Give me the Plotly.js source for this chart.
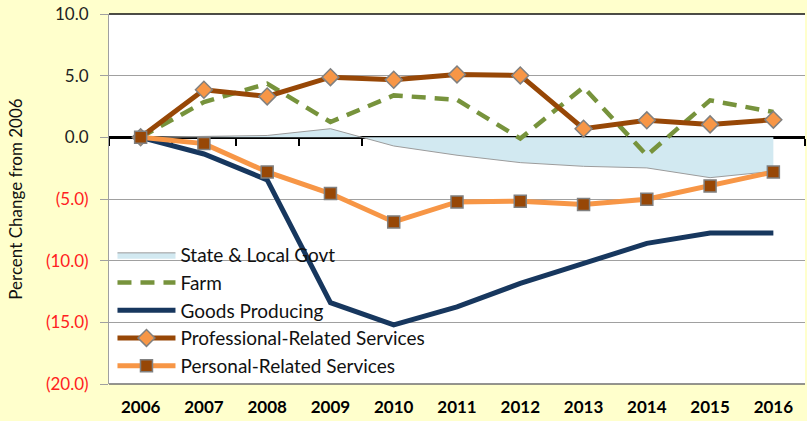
<!DOCTYPE html>
<html>
<head>
<meta charset="utf-8">
<script src="https://cdn.plot.ly/plotly-3.0.1.min.js"></script>
<style>html,body{margin:0;padding:0;background:#FFFFCC;}#chart{width:807px;height:421px;}</style>
</head>
<body>
<div id="chart"></div>
<script>
const years = ["2006","2007","2008","2009","2010","2011","2012","2013","2014","2015","2016"];
const stateLocalGovt = [0, 0.1, 0.15, 0.7, -0.7, -1.45, -2.05, -2.35, -2.48, -3.27, -2.75];
const farm = [0, 2.86, 4.35, 1.24, 3.4, 3.05, -0.1, 4.07, -1.46, 3.0, 2.05];
const goodsProducing = [0, -1.35, -3.45, -13.4, -15.2, -13.74, -11.85, -10.2, -8.6, -7.75, -7.75];
const professionalServices = [0, 3.86, 3.32, 4.88, 4.67, 5.1, 5.02, 0.7, 1.38, 1.05, 1.43];
const personalServices = [0, -0.51, -2.81, -4.56, -6.86, -5.24, -5.18, -5.45, -5.02, -3.94, -2.81];
const yTickVals = [10, 5, 0, -5, -10, -15, -20];

const yTickText = yTickVals.map(v => v < 0
  ? '<span style="color:#FF2020">(' + Math.abs(v).toFixed(1) + ')</span>'
  : v.toFixed(1));

const traces = [
  {x: years, y: stateLocalGovt, name: 'State &amp; Local Govt', type: 'scatter', mode: 'lines',
   fill: 'tozeroy', fillcolor: '#D2E9F1', line: {color: '#9C9C9C', width: 1}},
  {x: years, y: farm, name: 'Farm', type: 'scatter', mode: 'lines',
   line: {color: '#77933C', width: 4.5, dash: '14px,9px'}},
  {x: years, y: goodsProducing, name: 'Goods Producing', type: 'scatter', mode: 'lines',
   line: {color: '#17375E', width: 5}},
  {x: years, y: professionalServices, name: 'Professional-Related Services', type: 'scatter', mode: 'lines+markers',
   line: {color: '#974706', width: 5},
   marker: {symbol: 'diamond', size: 13, color: '#F79646', line: {color: '#808080', width: 1.5}}},
  {x: years, y: personalServices, name: 'Personal-Related Services', type: 'scatter', mode: 'lines+markers',
   line: {color: '#F79646', width: 5},
   marker: {symbol: 'square', size: 12, color: '#974706', line: {color: '#808080', width: 1.5}}}
];

const layout = {
  width: 807, height: 421,
  paper_bgcolor: '#FFFFCC', plot_bgcolor: '#FFFFFF',
  margin: {l: 109, r: 2, t: 14, b: 37},
  font: {family: 'Lato, "Open Sans", sans-serif', color: '#222'},
  showlegend: true,
  hovermode: false,
  xaxis: {
    type: 'category', range: [-0.5, 10.5], anchor: 'free', position: 2/3,
    showgrid: false, zeroline: false,
    tickson: 'boundaries', ticks: 'outside', ticklen: 7, tickwidth: 2, tickcolor: '#000000',
    showline: true, linecolor: '#000', linewidth: 3, layer: 'below traces',
    tickfont: {family: 'Lato, sans-serif', size: 17, color: '#000', weight: 'bold'},
    ticklabelstandoff: 253, fixedrange: true
  },
  yaxis: {
    range: [-20, 10], tickmode: 'array', tickvals: yTickVals, ticktext: yTickText,
    showgrid: true, gridcolor: '#A0A0A0', gridwidth: 1,
    zeroline: false,
    showline: true, linecolor: '#A0A0A0', linewidth: 1,
    ticks: 'outside', ticklen: 8, tickcolor: '#A0A0A0',
    tickfont: {family: 'Lato, sans-serif', size: 17, color: '#222'},
    ticklabelstandoff: 8,
    title: {text: 'Percent Change from 2006', font: {family: 'Lato, sans-serif', size: 17, color: '#111'}, standoff: 18},
    fixedrange: true
  },
  shapes: [
    {type: 'line', xref: 'paper', yref: 'paper', x0: 0, x1: 1, y0: 1, y1: 1, line: {color: '#111', width: 1.5}, layer: 'above'},
    {type: 'line', xref: 'paper', yref: 'paper', x0: 0, x1: 1, y0: 0, y1: 0, line: {color: '#707070', width: 1.5}, layer: 'above'}
  ],
  legend: {
    x: 0.005, y: 0.40, xanchor: 'left', yanchor: 'top',
    bgcolor: 'rgba(0,0,0,0)', borderwidth: 0,
    font: {family: 'Lato, sans-serif', size: 19, color: '#111'},
    itemwidth: 58,
    tracegroupgap: 0
  }
};

Plotly.newPlot('chart', traces, layout, {displayModeBar: false, staticPlot: true});
</script>
</body>
</html>
